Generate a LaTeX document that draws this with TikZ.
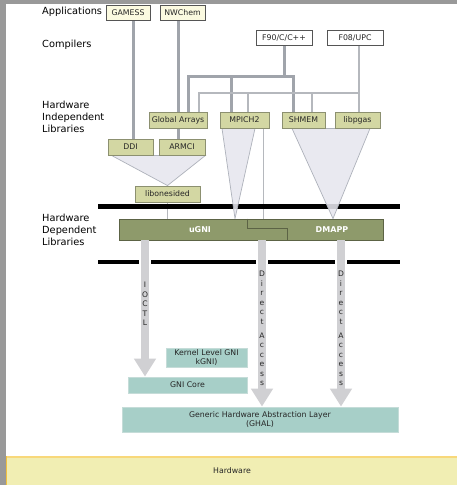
\documentclass[tikz,border=0pt]{standalone}
\usepackage{fontspec}
\setmainfont{DejaVu Sans}
\usetikzlibrary{arrows.meta,calc}
\definecolor{stripgray}{HTML}{999999}
\definecolor{appfill}{HTML}{FBFAE0}
\definecolor{boxborder}{HTML}{555555}
\definecolor{greenfill}{HTML}{D3D7A3}
\definecolor{greenborder}{HTML}{8C9070}
\definecolor{barfill}{HTML}{8E9A6B}
\definecolor{barborder}{HTML}{5C6345}
\definecolor{linethick}{HTML}{A0A4AB}
\definecolor{linethin}{HTML}{B5B8BD}
\definecolor{funnelfill}{HTML}{E6E6EE}
\definecolor{funnelborder}{HTML}{AEB2BB}
\definecolor{arrowgray}{HTML}{D0D0D3}
\definecolor{tealfill}{HTML}{A7CFC8}
\definecolor{tealborder}{HTML}{C5DCD8}
\definecolor{hwfill}{HTML}{F1EEB3}
\definecolor{hwtop}{HTML}{F8D87A}
\definecolor{hwleft}{HTML}{F0C040}
\pgfdeclarelayer{back}
\pgfdeclarelayer{lines}
\pgfdeclarelayer{bars}
\pgfdeclarelayer{funnel}
\pgfsetlayers{back,lines,bars,funnel,main}
\begin{document}
\begin{tikzpicture}[x=1pt,y=-1pt,
  boxtext/.style={font=\fontsize{7.8}{9.4}\selectfont, text=black!85, inner sep=0pt},
  appbox/.style={boxtext, draw=boxborder, fill=appfill, line width=0.8pt},
  compbox/.style={boxtext, draw=boxborder, fill=white, line width=0.8pt},
  libbox/.style={boxtext, draw=greenborder, fill=greenfill, line width=0.9pt},
  tealbox/.style={boxtext, draw=tealborder, fill=tealfill, line width=0.8pt, align=center},
  sidelabel/.style={font=\fontsize{9.8}{12}\selectfont, text=black, anchor=west, align=left, inner sep=0pt},
  thickline/.style={draw=linethick, line width=3pt},
  thinline/.style={draw=linethin, line width=2pt},
  hairline/.style={draw=linethin, line width=1pt},
  funnelshape/.style={fill=funnelfill, draw=funnelborder, line width=0.7pt, fill opacity=0.88},
  blackbar/.style={fill=black, draw=none},
  bigarrow/.style={draw=arrowgray, line width=8pt, -{Triangle[length=18pt,width=21pt]}},
  halo/.style={draw=white, line width=12pt},
  vletters/.style={font=\fontsize{7.6}{9.5}\selectfont, text=black!85, align=center, inner sep=0pt},
  bartext/.style={font=\bfseries\fontsize{8}{9}\selectfont, text=white, inner sep=0pt}
]
\useasboundingbox (0,0) rectangle (457,485);
\begin{pgfonlayer}{back}
  \fill[white] (0,0) rectangle (457,485);
  \fill[stripgray] (0,0) rectangle (6,485);
  \fill[stripgray] (0,0) rectangle (457,4);
  \fill[hwfill] (6,456) rectangle (457,485);
  \draw[hwtop, line width=2pt] (6,456.5) -- (457,456.5);
  \draw[hwleft, line width=1pt] (6.8,456) -- (6.8,485);
\end{pgfonlayer}

% side labels
\node[sidelabel] (lapp) at (42,12) {Applications};
\node[sidelabel] (lcomp) at (42,44.5) {Compilers};
\node[sidelabel] (lhil) at (42,117) {Hardware\\Independent\\Libraries};
\node[sidelabel] (lhdl) at (42,230) {Hardware\\Dependent\\Libraries};

% boxes
\node[appbox, minimum width=44pt, minimum height=15pt] (gamess) at (128,12.5) {GAMESS};
\node[appbox, minimum width=45pt, minimum height=15pt] (nwchem) at (182.5,12.5) {NWChem};
\node[compbox, minimum width=56pt, minimum height=15pt] (f90) at (284,37.5) {F90/C/C++};
\node[compbox, minimum width=56pt, minimum height=15pt] (f08) at (355,37.5) {F08/UPC};
\node[libbox, minimum width=58pt, minimum height=16pt] (ga) at (178,120) {Global Arrays};
\node[libbox, minimum width=49pt, minimum height=16pt] (mpich) at (244.5,120) {MPICH2};
\node[libbox, minimum width=43pt, minimum height=16pt] (shmem) at (303.5,120) {SHMEM};
\node[libbox, minimum width=45pt, minimum height=16pt] (libpgas) at (357.5,120) {libpgas};
\node[libbox, minimum width=45pt, minimum height=16pt] (ddi) at (130.5,147) {DDI};
\node[libbox, minimum width=46pt, minimum height=16pt] (armci) at (182,147) {ARMCI};
\node[libbox, minimum width=65pt, minimum height=16pt] (libone) at (167.5,194) {libonesided};

% uGNI / DMAPP bar
\node[draw=barborder, fill=barfill, line width=0.9pt, minimum width=264pt, minimum height=21pt, inner sep=0pt] (bar) at (251,229.5) {};
\draw[barborder, line width=0.9pt] (bar.north -| 247,0) -- (247,228) -- (287,228) -- (bar.south -| 287,0);
\node[bartext] (ugni) at (200,230) {uGNI};
\node[bartext] (dmapp) at (332,229.5) {DMAPP};

% teal boxes
\node[tealbox, minimum width=81pt, minimum height=19pt] (kgni) at (206.5,357.5) {Kernel Level GNI\\kGNI)};
\node[tealbox, minimum width=119pt, minimum height=16pt] (gnicore) at (187.5,385) {GNI Core};
\node[tealbox, minimum width=276pt, minimum height=25pt] (ghal) at (260,419.5) {Generic Hardware Abstraction Layer\\(GHAL)};
\node[boxtext] (hw) at (232,470.5) {Hardware};

% connectors
\begin{pgfonlayer}{lines}
  \draw[thickline] (gamess.south -| 133,0) -- (ddi.north -| 133,0);
  \draw[thickline] (nwchem.south -| 178,0) -- (armci.north -| 178,0);
  \draw[thickline] (f90.south) -- (f90.south |- 0,76);
  \draw[thickline] (ga.north -| 188,0) -- (188,76) -- (293,76) -- (shmem.north -| 293,0);
  \draw[thickline] (231,76) -- (mpich.north -| 231,0);
  \draw[thinline] (f08.south -| 359,0) -- (libpgas.north -| 359,0);
  \draw[thinline] (ga.north -| 199,0) -- (199,93) -- (359,93);
  \draw[thinline] (248,93) -- (mpich.north -| 248,0);
  \draw[thinline] (312,93) -- (shmem.north -| 312,0);
  \draw[hairline] (libone.south) -- (libone.south |- bar.north);
  \draw[hairline] (mpich.south -| 263,0) -- (bar.north -| 263,0);
\end{pgfonlayer}
\begin{pgfonlayer}{bars}
  \fill[blackbar] (98,204) rectangle (400,208.5);
  \fill[blackbar] (98,259.5) rectangle (400,264);
\end{pgfonlayer}
\begin{pgfonlayer}{funnel}
  \draw[funnelshape] ($(ddi.south west)+(4,0)$) -- (armci.south east) -- (libone.north) -- cycle;
  \draw[funnelshape] (mpich.south -| 222,0) -- (mpich.south -| 255,0) -- (bar.north -| 235,0) -- cycle;
  \draw[funnelshape] (shmem.south -| 292,0) -- (libpgas.south -| 370,0) -- (bar.north -| 333,0) -- cycle;
\end{pgfonlayer}

% big arrows
\draw[halo] (145,255) -- (145,268);
\draw[halo] (262,255) -- (262,268);
\draw[halo] (341,255) -- (341,268);
\draw[bigarrow] (bar.south -| 145,0) -- (gnicore.north -| 145,0);
\draw[bigarrow] (bar.south -| 262,0) -- (ghal.north -| 262,0);
\draw[bigarrow] (bar.south -| 341,0) -- (ghal.north -| 341,0);
\node[vletters] (ioctl) at (145,304) {I\\O\\C\\T\\L};
\node[vletters] (direct1) at (262,297.5) {D\\i\\r\\e\\c\\t};
\node[vletters] (access1) at (262,359.5) {A\\c\\c\\e\\s\\s};
\node[vletters] (direct2) at (341,297.5) {D\\i\\r\\e\\c\\t};
\node[vletters] (access2) at (341,359.5) {A\\c\\c\\e\\s\\s};
\end{tikzpicture}
\end{document}
